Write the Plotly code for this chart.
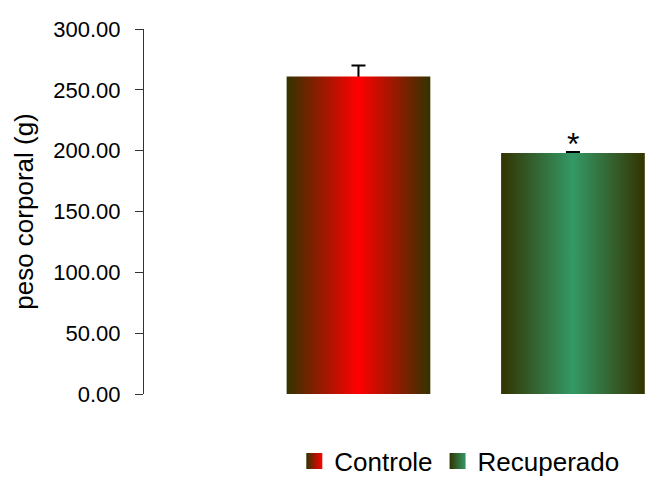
import plotly.graph_objects as go

# Body weight by group
groups = ["Controle", "Recuperado"]
weights = [261.0, 198.0]
sem = [9.0, 1.0]
center_colors = ["#ff0000", "#339966"]
edge_color = "#333300"
y_ticks = [0, 50, 100, 150, 200, 250, 300]

positions = [1, 2]
bar_width = 0.67

fig = go.Figure()

# Error bars drawn first so the bars hide their lower half
fig.add_trace(go.Scatter(
    x=positions,
    y=weights,
    mode="markers",
    marker=dict(size=1, color="rgba(0,0,0,0)"),
    error_y=dict(type="data", array=sem, symmetric=True,
                 color="black", thickness=2, width=7),
    showlegend=False,
    hoverinfo="skip",
))

# Bars with a horizontal edge-to-centre gradient
for pos, name, val, col in zip(positions, groups, weights, center_colors):
    x0, x1 = pos - bar_width / 2, pos + bar_width / 2
    fig.add_trace(go.Scatter(
        x=[x0, x1, x1, x0, x0],
        y=[0, 0, val, val, 0],
        mode="lines",
        line=dict(width=0, color=col),
        fill="toself",
        fillgradient=dict(
            type="horizontal",
            colorscale=[[0, edge_color], [0.5, col], [1, edge_color]],
        ),
        name=name,
        showlegend=False,
        hoverinfo="skip",
    ))

# Legend entries: small gradient squares
for name, col in zip(groups, center_colors):
    fig.add_trace(go.Scatter(
        x=[None], y=[None], mode="markers", name=name,
        marker=dict(symbol="square", size=17, color=edge_color,
                    gradient=dict(type="horizontal", color=col),
                    line=dict(width=0)),
    ))

# Significance marker
fig.add_annotation(
    x=positions[1], y=weights[1] + sem[1],
    text="*", showarrow=False, yanchor="bottom", yshift=-12,
    font=dict(family="Liberation Sans, Arial", size=32, color="black"),
)

fig.update_layout(
    width=645, height=477,
    margin=dict(l=144, r=0, t=29, b=83, autoexpand=False),
    paper_bgcolor="white", plot_bgcolor="white",
    font=dict(family="Liberation Sans, Arial", color="black"),
    showlegend=True,
    legend=dict(
        orientation="h", x=0.30, xanchor="left", y=-0.184, yanchor="middle",
        font=dict(size=26), itemwidth=30,
        bgcolor="rgba(0,0,0,0)",
    ),
    xaxis=dict(range=[0, 2.336], showline=False, showticklabels=False,
               showgrid=False, zeroline=False, ticks=""),
    yaxis=dict(
        range=[0, 300], tickvals=y_ticks,
        ticktext=[f"{v:.2f}" for v in y_ticks],
        tickfont=dict(size=22),
        showline=True, linecolor="#333333", linewidth=1,
        ticks="outside", ticklen=8, tickcolor="#333333",
        ticklabelstandoff=10,
        showgrid=False, zeroline=False,
        title=dict(text="peso corporal (g)", font=dict(size=26), standoff=12),
    ),
)

fig.write_html("out.html")
